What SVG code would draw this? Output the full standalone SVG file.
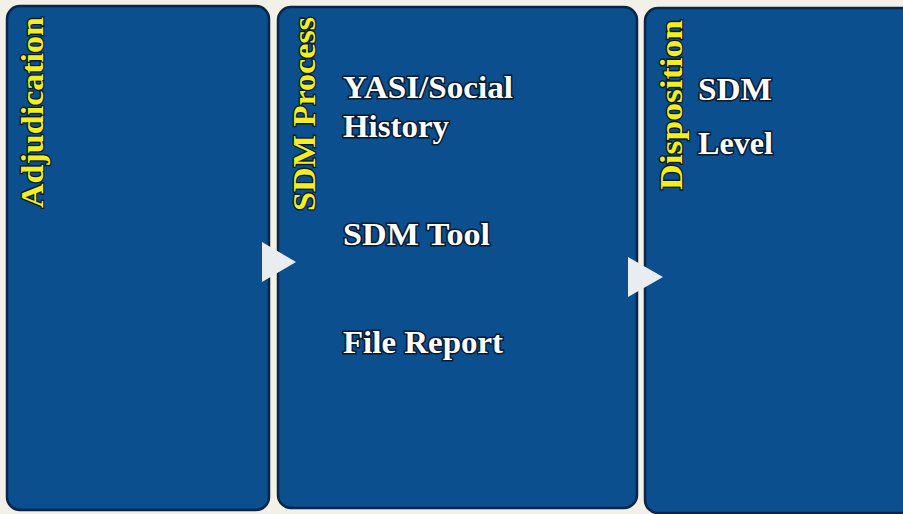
<svg xmlns="http://www.w3.org/2000/svg" width="903" height="514" viewBox="0 0 903 514">
  <style>
    .panel { fill: #0b4f8e; stroke: #0a2546; stroke-width: 2.5; }
    .stage { font-family: "Liberation Serif", "DejaVu Serif", serif; font-weight: bold; font-size: 31px; fill: #f4ee1c; stroke: #06182e; stroke-width: 2.5; paint-order: stroke; }
    .item { font-family: "Liberation Serif", "DejaVu Serif", serif; font-weight: bold; font-size: 31px; fill: #ffffff; stroke: #061a30; stroke-width: 3; paint-order: stroke; }
    .flow { fill: #e9edf1; }
  </style>
  <rect width="903" height="514" fill="#f3f1e7"/>

  <g id="adjudication">
    <rect class="panel" x="7" y="6" width="262" height="504" rx="13"/>
    <text class="stage" transform="translate(43,208) rotate(-90)" textLength="191" lengthAdjust="spacingAndGlyphs">Adjudication</text>
  </g>

  <g id="sdm-process">
    <rect class="panel" x="278" y="7" width="359" height="501" rx="13"/>
    <text class="stage" transform="translate(315,211) rotate(-90)" textLength="194" lengthAdjust="spacingAndGlyphs">SDM Process</text>
    <text class="item" x="343" y="98" textLength="170" lengthAdjust="spacingAndGlyphs">YASI/Social</text>
    <text class="item" x="343" y="137" textLength="106" lengthAdjust="spacingAndGlyphs">History</text>
    <text class="item" x="343" y="245" textLength="147" lengthAdjust="spacingAndGlyphs">SDM Tool</text>
    <text class="item" x="343" y="353" textLength="160" lengthAdjust="spacingAndGlyphs">File Report</text>
  </g>

  <g id="disposition">
    <rect class="panel" x="645" y="8" width="275" height="505" rx="13"/>
    <text class="stage" transform="translate(682,190) rotate(-90)" textLength="170" lengthAdjust="spacingAndGlyphs">Disposition</text>
    <text class="item" x="698" y="100" textLength="74" lengthAdjust="spacingAndGlyphs">SDM</text>
    <text class="item" x="698" y="154" textLength="75" lengthAdjust="spacingAndGlyphs">Level</text>
  </g>

  <g id="connectors">
    <polygon class="flow" points="262,242 296,262 262,282"/>
    <polygon class="flow" points="628,257 663,277 628,297"/>
  </g>
</svg>
